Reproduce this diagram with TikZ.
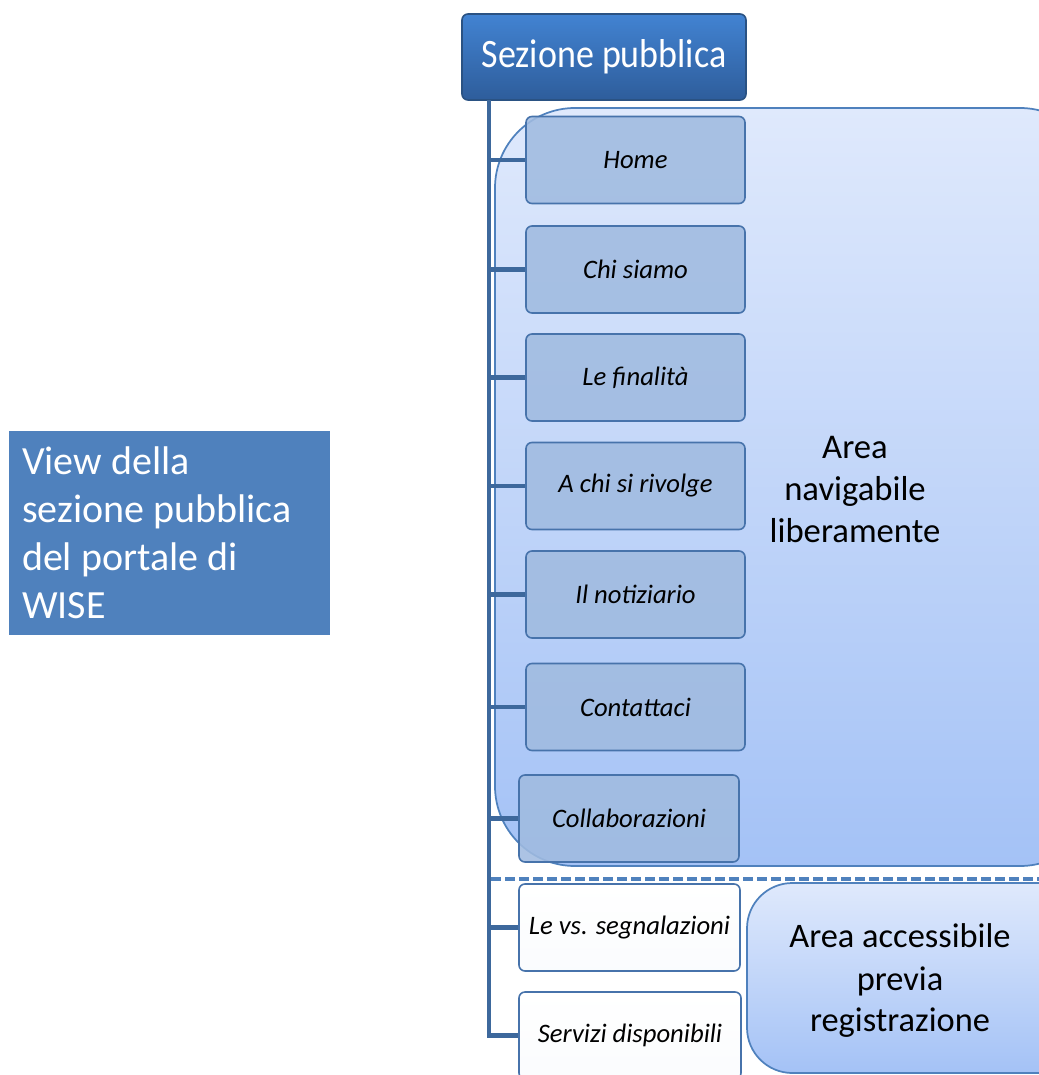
\documentclass[tikz,border=0pt]{standalone}
\usepackage{fontspec}
\setmainfont{Carlito}
\definecolor{leftblue}{HTML}{4F81BD}
\definecolor{trunkc}{HTML}{3D689C}
\definecolor{childfill}{HTML}{A0BBE0}
\definecolor{childdraw}{HTML}{4773AB}
\definecolor{topA}{HTML}{4283D2}
\definecolor{topB}{HTML}{2E5D9B}
\definecolor{topdraw}{HTML}{2A5283}
\definecolor{areaTop}{HTML}{DFE9FC}
\definecolor{areaBot}{HTML}{A4C2F6}
\definecolor{areadraw}{HTML}{4F81BD}
\begin{document}
\begin{tikzpicture}[x=0.75pt,y=-0.75pt,
  conn/.style={draw=trunkc,line width=3.6pt},
  childbox/.style={rectangle,draw=childdraw,line width=1.2pt,fill=childfill,fill opacity=0.88,text opacity=1,
    rounded corners=4.5pt,minimum width=219*0.75pt,minimum height=87*0.75pt,inner sep=2pt,
    font=\fontsize{20}{24}\selectfont\itshape},
  whitebox/.style={childbox,fill=white,fill opacity=1,top color=white,bottom color=white!95!childfill},
  areabox/.style={draw=areadraw,line width=1.3pt,top color=areaTop,bottom color=areaBot}]
\useasboundingbox (0,0) rectangle (1039,1075);
\clip (0,0) rectangle (1039,1075);

% left title box
\node (view) [rectangle,fill=leftblue,text=white,minimum width=321*0.75pt,minimum height=204*0.75pt,
  text width=295*0.75pt,align=flush left,inner xsep=9.75pt,font=\fontsize{30}{36}\selectfont]
  at (169.5,533) {View della\\sezione pubblica\\del portale di\\WISE};

% areas
\path[areabox,rounded corners=60pt] (495,108) rectangle (1100,866);
\path[areabox,rounded corners=34pt] (747,883) rectangle (1100,1073);

% area labels
\node (area1) [align=center,font=\fontsize{26}{31.5}\selectfont] at (855,489) {Area\\navigabile\\liberamente};
\node (area2) [align=center,font=\fontsize{25.8}{31.5}\selectfont] at (900,981) {Area accessibile\\previa\\registrazione};

% top box
\node (top) [rectangle,draw=topdraw,line width=1.2pt,top color=topA,bottom color=topB,text=white,
  rounded corners=4.5pt,minimum width=284*0.75pt,minimum height=86*0.75pt,
  font=\fontsize{27}{32}\selectfont] at (604,57) {\scalebox{1}[1.12]{Sezione pubblica}};
\coordinate (trunk) at (489,100);

% children
\node (home)   [childbox] at (635.5,160)   {Home};
\node (chi)    [childbox] at (635.5,269.5) {Chi siamo};
\node (fin)    [childbox] at (635.5,377.5) {Le finalità};
\node (rivo)   [childbox] at (635.5,486)   {A chi si rivolge};
\node (noti)   [childbox] at (635.5,594.5) {Il notiziario};
\node (conta)  [childbox] at (635.5,707)   {Contattaci};
\node (coll)   [childbox,minimum width=220*0.75pt] at (629,818.5) {Collaborazioni};

% dashed separator
\coordinate (dashL) at (491,879);
\coordinate (dashR) at (1039,879);
\draw[draw=areadraw,line width=3pt,dash pattern=on 7.5pt off 3pt] (dashL) -- (dashR);

\node (segn)   [whitebox,minimum width=221*0.75pt] at (629.5,927.5) {Le vs. segnalazioni};
\node (serv)   [whitebox,minimum width=222*0.75pt] at (630,1035.5) {Servizi disponibili};

% connectors
\foreach \n in {home,chi,fin,rivo,noti,conta,coll,segn,serv}
  \draw[conn] (trunk) |- (\n.west);
\end{tikzpicture}
\end{document}
